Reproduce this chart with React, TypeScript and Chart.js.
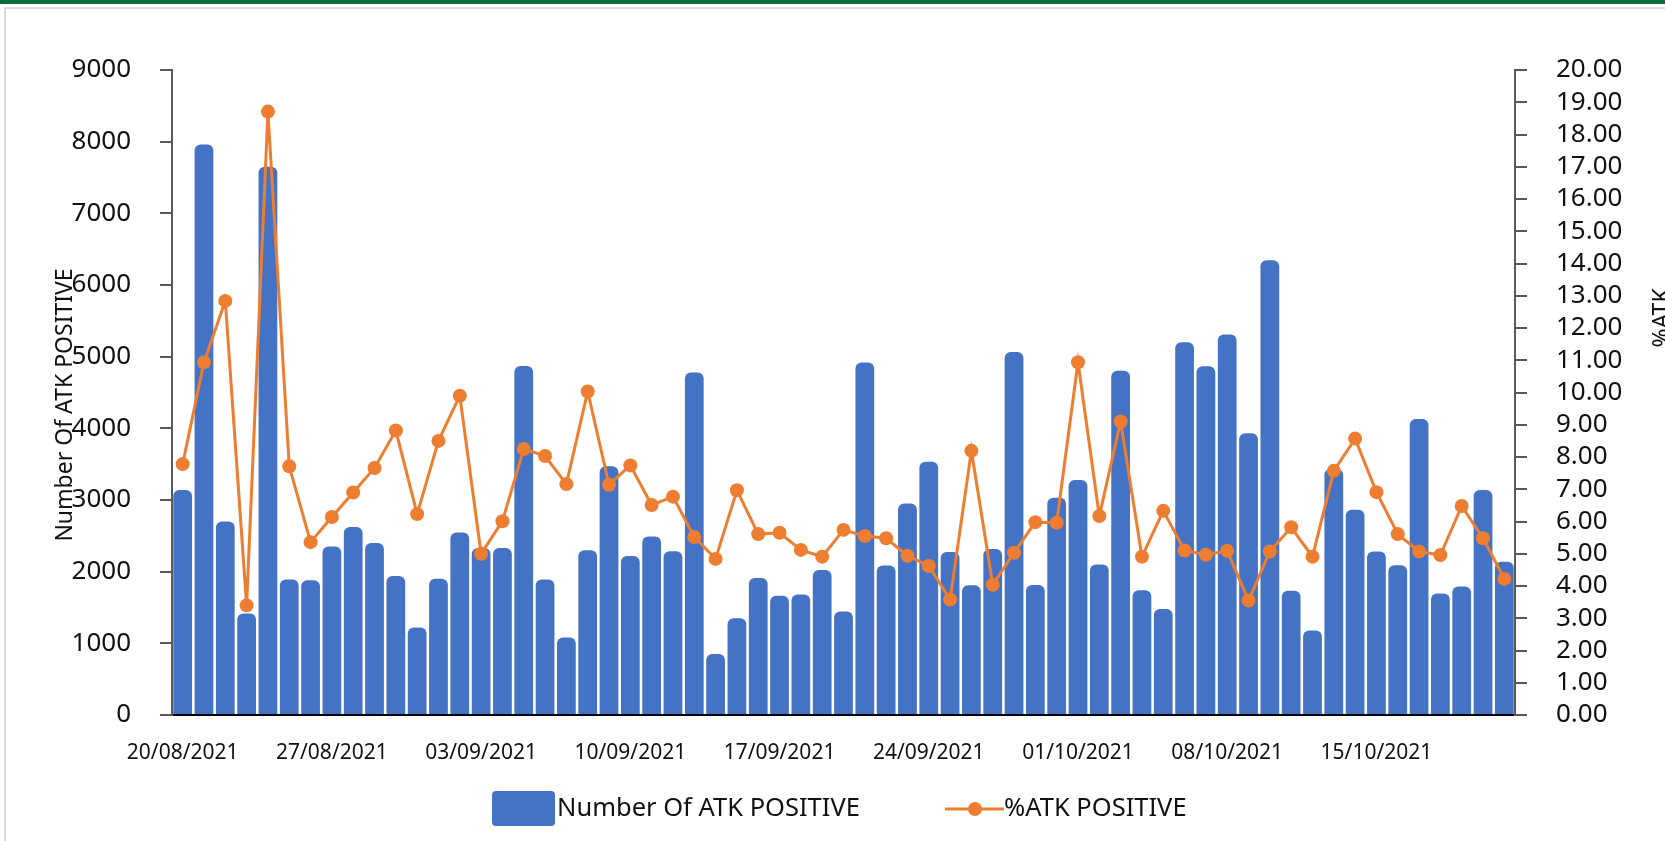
import React, { useEffect, useRef } from "react";
import { Chart, registerables } from "chart.js";

Chart.register(...registerables);

const dates = [
  "20/08/2021", "21/08/2021", "22/08/2021", "23/08/2021", "24/08/2021", "25/08/2021", "26/08/2021",
  "27/08/2021", "28/08/2021", "29/08/2021", "30/08/2021", "31/08/2021", "01/09/2021", "02/09/2021",
  "03/09/2021", "04/09/2021", "05/09/2021", "06/09/2021", "07/09/2021", "08/09/2021", "09/09/2021",
  "10/09/2021", "11/09/2021", "12/09/2021", "13/09/2021", "14/09/2021", "15/09/2021", "16/09/2021",
  "17/09/2021", "18/09/2021", "19/09/2021", "20/09/2021", "21/09/2021", "22/09/2021", "23/09/2021",
  "24/09/2021", "25/09/2021", "26/09/2021", "27/09/2021", "28/09/2021", "29/09/2021", "30/09/2021",
  "01/10/2021", "02/10/2021", "03/10/2021", "04/10/2021", "05/10/2021", "06/10/2021", "07/10/2021",
  "08/10/2021", "09/10/2021", "10/10/2021", "11/10/2021", "12/10/2021", "13/10/2021", "14/10/2021",
  "15/10/2021", "16/10/2021", "17/10/2021", "18/10/2021", "19/10/2021", "20/10/2021", "21/10/2021",
];

const atkPositive = [
  3140, 7960, 2700, 1415, 7650, 1890, 1880,
  2350, 2625, 2400, 1940, 1220, 1900, 2545,
  2330, 2330, 4870, 1890, 1080, 2300, 3470,
  2220, 2490, 2285, 4780, 850, 1350, 1910,
  1665, 1680, 2025, 1445, 4920, 2085, 2950,
  3535, 2275, 1810, 2315, 5065, 1815, 3030,
  3280, 2100, 4805, 1740, 1480, 5200, 4865,
  5310, 3930, 6345, 1735, 1180, 3435, 2865,
  2280, 2090, 4130, 1695, 1793, 3141, 2140,
];

const atkPercent = [
  7.78, 10.94, 12.84, 3.4, 18.71, 7.71, 5.36,
  6.14, 6.9, 7.66, 8.82, 6.23, 8.5, 9.9,
  5.0, 6.01, 8.25, 8.03, 7.16, 10.03, 7.14,
  7.74, 6.51, 6.77, 5.52, 4.84, 6.97, 5.61,
  5.65, 5.12, 4.91, 5.74, 5.55, 5.48, 4.94,
  4.62, 3.58, 8.19, 4.04, 5.03, 5.98, 5.96,
  10.94, 6.17, 9.1, 4.91, 6.33, 5.1, 4.97,
  5.09, 3.55, 5.07, 5.82, 4.91, 7.57, 8.57,
  6.91, 5.61, 5.07, 4.96, 6.48, 5.48, 4.22,
];

const leftTitle = "Number Of ATK POSITIVE";
const rightTitle = "%ATK";
const barLabel = "Number Of ATK POSITIVE";
const lineLabel = "%ATK POSITIVE";

const W = 1665;
const H = 841;
const FONT = '"Noto Sans", "DejaVu Sans", sans-serif';
const BLUE = "#4472C4";
const ORANGE = "#ED7D31";
const AXIS = "#595959";
const TEXT = "#111111";

const decor = {
  id: "decor",
  beforeDraw(chart: any) {
    const ctx = chart.ctx;
    ctx.save();
    ctx.fillStyle = "#ffffff";
    ctx.fillRect(0, 0, W, H);
    ctx.fillStyle = "#0b6b3a";
    ctx.fillRect(0, 0, W, 4);
    ctx.strokeStyle = "#dadada";
    ctx.lineWidth = 2;
    ctx.beginPath();
    ctx.moveTo(5, H);
    ctx.lineTo(5, 8);
    ctx.lineTo(W, 8);
    ctx.stroke();
    ctx.restore();
  },
  afterDraw(chart: any) {
    const ctx = chart.ctx;
    ctx.save();
    ctx.fillStyle = TEXT;
    // left axis title
    ctx.save();
    ctx.translate(65, 405);
    ctx.rotate(-Math.PI / 2);
    ctx.font = `23px ${FONT}`;
    ctx.textAlign = "center";
    ctx.textBaseline = "middle";
    ctx.fillText(leftTitle, 0, 0);
    ctx.restore();
    // right axis title (clipped at the edge)
    ctx.save();
    ctx.translate(1662, 318);
    ctx.rotate(-Math.PI / 2);
    ctx.font = `23px ${FONT}`;
    ctx.textAlign = "center";
    ctx.textBaseline = "middle";
    ctx.fillText(rightTitle, 0, 0);
    ctx.restore();

    // legend
    const ly = 809;
    const ds = chart.data.datasets;
    const barDs = ds.find((d: any) => d.type === "bar");
    const lineDs = ds.find((d: any) => d.type === "line");
    ctx.fillStyle = BLUE;
    ctx.beginPath();
    (ctx as any).roundRect(492, 791, 63, 35, 4);
    ctx.fill();
    ctx.fillStyle = TEXT;
    ctx.font = `25.5px ${FONT}`;
    ctx.textAlign = "left";
    ctx.textBaseline = "middle";
    ctx.fillText(barDs.label, 557, ly);

    ctx.strokeStyle = ORANGE;
    ctx.lineWidth = 3;
    ctx.beginPath();
    ctx.moveTo(945, ly);
    ctx.lineTo(1004, ly);
    ctx.stroke();
    ctx.fillStyle = ORANGE;
    ctx.beginPath();
    ctx.arc(975, ly, 7, 0, Math.PI * 2);
    ctx.fill();
    ctx.fillStyle = TEXT;
    ctx.fillText(lineDs.label, 1004, ly);
    ctx.restore();
  },
};

export default function App() {
  const ref = useRef<HTMLCanvasElement | null>(null);

  useEffect(() => {
    if (!ref.current) return;
    const chart = new Chart(ref.current, {
      type: "bar",
      data: {
        labels: dates,
        datasets: [
          {
            type: "line",
            label: lineLabel,
            data: atkPercent,
            yAxisID: "y1",
            borderColor: ORANGE,
            backgroundColor: ORANGE,
            borderWidth: 3,
            pointRadius: 7,
            pointHoverRadius: 7,
            pointBackgroundColor: ORANGE,
            pointBorderColor: ORANGE,
            pointBorderWidth: 0,
            tension: 0,
            order: 0,
          } as any,
          {
            type: "bar",
            label: barLabel,
            data: atkPositive,
            yAxisID: "y",
            backgroundColor: BLUE,
            borderWidth: 0,
            borderRadius: { topLeft: 6, topRight: 6, bottomLeft: 0, bottomRight: 0 },
            borderSkipped: "bottom",
            barPercentage: 0.88,
            categoryPercentage: 1,
            order: 1,
          } as any,
        ],
      },
      options: {
        responsive: false,
        animation: false,
        devicePixelRatio: 1,
        layout: { padding: { top: 70, left: 0, right: 0, bottom: 0 } },
        plugins: {
          legend: { display: false },
          tooltip: { enabled: false },
          title: { display: false },
        },
        scales: {
          x: {
            type: "category",
            offset: true,
            grid: { display: false, drawTicks: false },
            border: { display: true, color: "#000000", width: 2 },
            ticks: {
              autoSkip: false,
              maxRotation: 0,
              minRotation: 0,
              padding: 25,
              color: TEXT,
              font: { family: FONT, size: 21 },
              callback: (_v: any, i: number) => (i % 7 === 0 ? dates[i] : ""),
            },
            afterFit: (s: any) => {
              s.height = 126;
            },
          },
          y: {
            position: "left",
            min: 0,
            max: 9000,
            grid: {
              display: true,
              drawOnChartArea: false,
              drawTicks: true,
              tickLength: 12,
              color: AXIS,
              lineWidth: 2,
            },
            border: { display: true, color: AXIS, width: 2 },
            ticks: {
              autoSkip: false,
              stepSize: 1000,
              padding: 29,
              color: TEXT,
              font: { family: FONT, size: 26 },
              callback: (v: any) => String(v),
            },
            afterFit: (s: any) => {
              s.width = 172;
            },
          },
          y1: {
            position: "right",
            min: 0,
            max: 20,
            grid: {
              display: true,
              drawOnChartArea: false,
              drawTicks: true,
              tickLength: 12,
              color: AXIS,
              lineWidth: 2,
            },
            border: { display: true, color: AXIS, width: 2 },
            ticks: {
              autoSkip: false,
              stepSize: 1,
              padding: 29,
              color: TEXT,
              font: { family: FONT, size: 26 },
              callback: (v: any) => Number(v).toFixed(2),
            },
            afterFit: (s: any) => {
              s.width = 150;
            },
          },
        },
      } as any,
      plugins: [decor],
    });
    return () => chart.destroy();
  }, []);

  return (
    <div style={{ position: "fixed", left: 0, top: 0, width: W, height: H, background: "#fff" }}>
      <canvas ref={ref} width={W} height={H} style={{ width: W, height: H, display: "block" }} />
    </div>
  );
}
